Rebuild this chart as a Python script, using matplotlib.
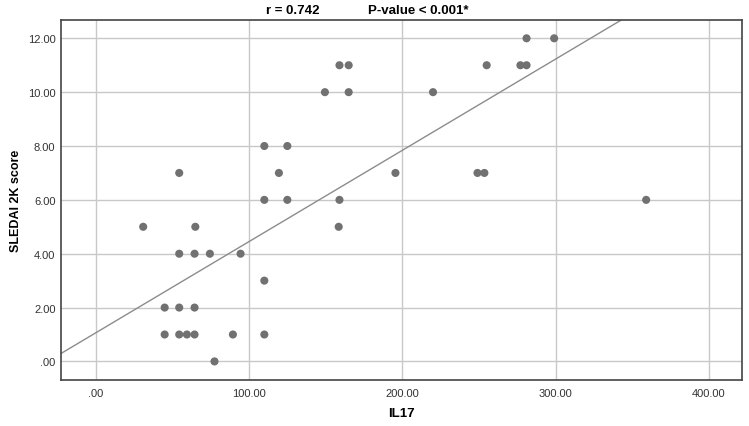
import matplotlib
matplotlib.use("Agg")
import matplotlib.pyplot as plt
import numpy as np

plt.rcParams['font.family'] = ['Liberation Sans', 'DejaVu Sans']

il17 = [159, 165, 255, 277, 281,
        149.5, 165, 220,
        281, 299,
        110, 125,
        54.5, 119.5, 195.5, 249, 253.5,
        110, 125, 159, 359,
        31, 65, 158.5,
        54.5, 64.5, 74.5, 94.5,
        110,
        45, 54.5, 64.5,
        45, 54.5, 59.5, 64.5, 89.5, 110,
        77.5]
sledai = [11, 11, 11, 11, 11,
          10, 10, 10,
          12, 12,
          8, 8,
          7, 7, 7, 7, 7,
          6, 6, 6, 6,
          5, 5, 5,
          4, 4, 4, 4,
          3,
          2, 2, 2,
          1, 1, 1, 1, 1, 1,
          0]
# fit line as shown in the reference (intercept, slope)
fit_intercept = 1.06
fit_slope = 0.0339
x_ticks = [0, 100, 200, 300, 400]
x_tick_labels = [".00", "100.00", "200.00", "300.00", "400.00"]
y_ticks = [0, 2, 4, 6, 8, 10, 12]
y_tick_labels = [".00", "2.00", "4.00", "6.00", "8.00", "10.00", "12.00"]

fig = plt.figure(figsize=(7.49, 4.27), dpi=100)
ax = fig.add_axes([61/749, 46/427, 681/749, 360/427])
ax.set_xlim(-22.6, 421.5)
ax.set_ylim(-0.69, 12.68)

ax.grid(True, color='#c8c8c8', linewidth=1.0, zorder=0)
ax.set_axisbelow(True)

xs = np.array(ax.get_xlim())
ax.plot(xs, fit_intercept + fit_slope * xs, color='#8c8c8c', linewidth=1.0, zorder=2)

ax.scatter(il17, sledai, s=34, color='#717171', edgecolors='none', zorder=3)

ax.set_xticks(x_ticks)
ax.set_xticklabels(x_tick_labels)
ax.set_yticks(y_ticks)
ax.set_yticklabels(y_tick_labels)
ax.tick_params(length=0, labelsize=8, labelcolor='#333333', pad=4)
ax.tick_params(axis='x', pad=6)
for s in ax.spines.values():
    s.set_color('#444444')
    s.set_linewidth(1.2)

ax.set_xlabel("IL17", fontsize=9.5, fontweight='bold', labelpad=6)
ax.set_ylabel("SLEDAI 2K score", fontsize=9, fontweight='bold', labelpad=4)

fig.text(293/749, 1 - 11/427, "r = 0.742", ha='center', va='center', fontsize=9.5, fontweight='bold')
fig.text(368/749, 1 - 11/427, "P-value < 0.001*", ha='left', va='center', fontsize=9.5, fontweight='bold')

fig.savefig("out.png", dpi=100)
